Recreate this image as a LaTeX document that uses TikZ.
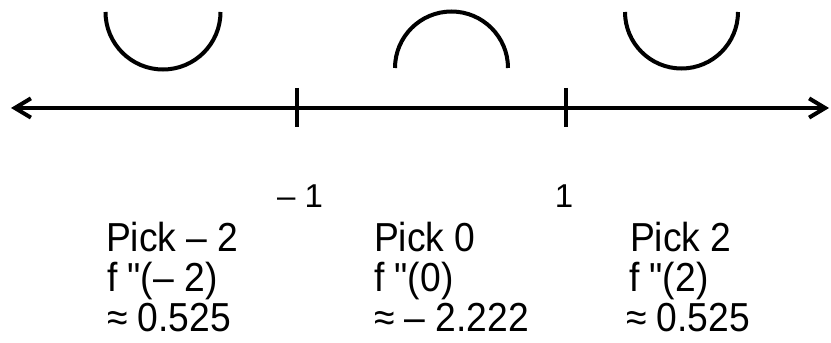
\documentclass[tikz,border=0pt]{standalone}
\usepackage{fontspec}
\setmainfont{Liberation Sans}[Ligatures=TeXOff]
\newfontfamily\pickfont{Liberation Sans}[Ligatures=TeXOff, FakeStretch=0.92]
\usetikzlibrary{arrows.meta}
\begin{document}
\begin{tikzpicture}[
    line width=2.85pt,
    >={Straight Barb[length=4mm,width=4.8mm]},
    axis/.style={<->},
    tickmark/.style={line width=2.6pt},
    ticklabel/.style={anchor=base, inner sep=0pt, font=\fontsize{23.5}{26}\selectfont},
    pick/.style={anchor=base west, inner sep=0pt, font=\pickfont\fontsize{28.8}{30}\selectfont}
  ]
  \useasboundingbox (0,-5.875) rectangle (20.775,2.7);

  % number line
  \coordinate (L) at (0.275,0);
  \coordinate (R) at (20.725,0);
  \draw[axis] (L) -- (R);

  % tick marks at -1 and 1
  \coordinate (t1) at (7.425,0);
  \coordinate (t2) at (14.15,0);
  \draw[tickmark] ([yshift=0.5cm]t1) -- ([yshift=-0.475cm]t1);
  \draw[tickmark] ([yshift=0.5cm]t2) -- ([yshift=-0.475cm]t2);
  \node[ticklabel] (m1) at (7.5,-2.5) {– 1};
  \node[ticklabel] (p1) at (14.1,-2.5) {1};

  % concavity sketches
  \draw (2.6375,2.4) arc[start angle=180, end angle=360, radius=1.4375];
  \draw (9.875,1.0) arc[start angle=180, end angle=0, radius=1.4125];
  \draw (15.625,2.4) arc[start angle=180, end angle=360, radius=1.4125];

  % test values
  \node[pick] (a1) at (2.6,-3.6) {Pick – 2};
  \node[pick] (a2) at (2.625,-4.6) {f "(– 2)};
  \node[pick] (a3) at (2.625,-5.6) {≈ 0.525};

  \node[pick] (b1) at (9.3,-3.6) {Pick 0};
  \node[pick] (b2) at (9.3,-4.6) {f "(0)};
  \node[pick] (b3) at (9.3,-5.6) {≈ – 2.222};

  \node[pick] (c1) at (15.7,-3.6) {Pick 2};
  \node[pick] (c2) at (15.675,-4.6) {f "(2)};
  \node[pick] (c3) at (15.6,-5.6) {≈ 0.525};
\end{tikzpicture}
\end{document}
